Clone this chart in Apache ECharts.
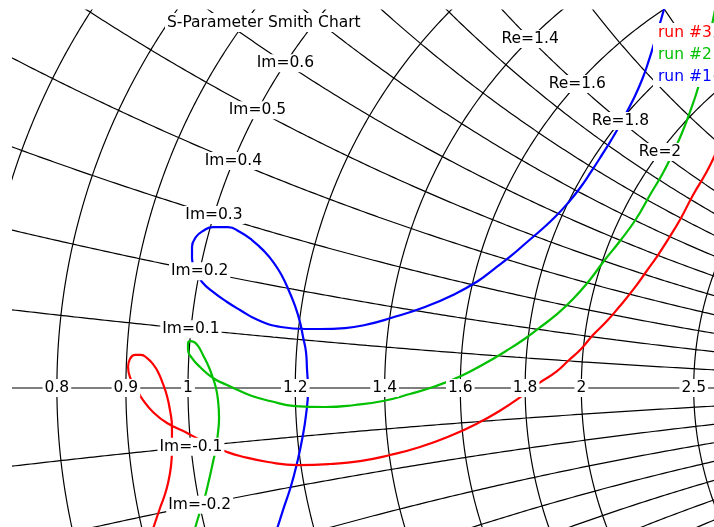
<!DOCTYPE html>
<html><head><meta charset="utf-8">
<script src="https://cdn.jsdelivr.net/npm/echarts@6/dist/echarts.min.js"></script>
<style>html,body{margin:0;padding:0;background:#fff}#c{width:714px;height:527px}</style>
</head><body><div id="c"></div>
<script>
// ---- Smith chart grid values (normalised impedance) ----
const resistanceCircles = [0.5, 0.6, 0.7, 0.8, 0.9, 1, 1.2, 1.4, 1.6, 1.8, 2, 2.5, 3, 4, 5];
const reactanceArcs = [0.1, 0.2, 0.3, 0.4, 0.5, 0.6, 0.7, 0.8, 0.9, 1, 1.2, 1.4, 1.6, 1.8, 2, 3, 4, 5];
// ---- tick labels ----
const realAxisLabels = [0.8, 0.9, 1, 1.2, 1.4, 1.6, 1.8, 2, 2.5];
const imLabels = [0.6, 0.5, 0.4, 0.3, 0.2, 0.1, -0.1, -0.2];
const reLabels = [1.4, 1.6, 1.8, 2];
// ---- S11 data, reflection coefficient (real, imag) ----
const run1Re = [0.4051,0.4008,0.3958,0.3907,0.3847,0.3771,0.3686,0.3602,0.3508,0.3415,0.3322,0.3220,0.3110,0.2992,0.2864,0.2737,0.2593,0.2458,0.2263,0.2008,0.1720,0.1500,0.1331,0.1119,0.0992,0.0788,0.0593,0.0441,0.0331,0.0212,0.0119,0.0059,0.0034,0.0034,0.0068,0.0127,0.0212,0.0339,0.0441,0.0542,0.0644,0.0729,0.0797,0.0856,0.0907,0.0949,0.0975,0.1000,0.1008,0.1017,0.1000,0.0966,0.0924,0.0873,0.0814,0.0746];
const run1Im = [0.3271,0.3119,0.2949,0.2780,0.2610,0.2441,0.2280,0.2127,0.1975,0.1831,0.1695,0.1568,0.1449,0.1339,0.1229,0.1119,0.1008,0.0907,0.0797,0.0686,0.0593,0.0534,0.0508,0.0500,0.0500,0.0517,0.0576,0.0661,0.0729,0.0814,0.0898,0.1000,0.1102,0.1195,0.1280,0.1331,0.1364,0.1364,0.1322,0.1254,0.1161,0.1059,0.0949,0.0822,0.0695,0.0559,0.0432,0.0305,0.0169,-0.0017,-0.0229,-0.0441,-0.0636,-0.0831,-0.1008,-0.1220];
const run2Re = [0.4475,0.4449,0.4407,0.4364,0.4322,0.4254,0.4186,0.4110,0.4025,0.3915,0.3797,0.3661,0.3525,0.3398,0.3263,0.3119,0.2975,0.2839,0.2695,0.2508,0.2314,0.2102,0.1881,0.1653,0.1415,0.1161,0.0907,0.0695,0.0542,0.0441,0.0331,0.0212,0.0102,0.0034,0.0000,0.0000,0.0017,0.0051,0.0085,0.0127,0.0169,0.0203,0.0237,0.0254,0.0263,0.0254,0.0237,0.0212,0.0178,0.0136,0.0093,0.0051];
const run2Im = [0.3246,0.3119,0.2907,0.2712,0.2542,0.2339,0.2161,0.1992,0.1822,0.1636,0.1432,0.1246,0.1076,0.0907,0.0754,0.0619,0.0508,0.0407,0.0314,0.0203,0.0102,0.0017,-0.0051,-0.0110,-0.0144,-0.0161,-0.0153,-0.0110,-0.0068,-0.0025,0.0025,0.0085,0.0178,0.0254,0.0322,0.0373,0.0398,0.0390,0.0356,0.0280,0.0195,0.0110,0.0000,-0.0102,-0.0254,-0.0381,-0.0508,-0.0627,-0.0780,-0.0949,-0.1076,-0.1220];
const run3Re = [0.4492,0.4458,0.4390,0.4280,0.4178,0.4076,0.3983,0.3881,0.3771,0.3653,0.3542,0.3432,0.3331,0.3229,0.3119,0.2975,0.2805,0.2653,0.2458,0.2220,0.1966,0.1712,0.1458,0.1203,0.0932,0.0678,0.0441,0.0331,0.0212,0.0102,-0.0008,-0.0178,-0.0297,-0.0381,-0.0441,-0.0492,-0.0508,-0.0492,-0.0449,-0.0398,-0.0347,-0.0297,-0.0254,-0.0212,-0.0178,-0.0153,-0.0136,-0.0136,-0.0144,-0.0169,-0.0203,-0.0237,-0.0305];
const run3Im = [0.2051,0.1958,0.1822,0.1636,0.1441,0.1271,0.1127,0.0983,0.0831,0.0686,0.0559,0.0449,0.0331,0.0237,0.0136,0.0042,-0.0085,-0.0186,-0.0297,-0.0407,-0.0500,-0.0568,-0.0619,-0.0644,-0.0653,-0.0627,-0.0576,-0.0542,-0.0492,-0.0441,-0.0381,-0.0297,-0.0203,-0.0102,0.0000,0.0093,0.0178,0.0246,0.0280,0.0280,0.0254,0.0203,0.0136,0.0034,-0.0068,-0.0186,-0.0331,-0.0525,-0.0661,-0.0805,-0.0924,-0.1017,-0.1220];

const FONT = 'DejaVu Sans';
const FS = 15.5;

function gamma(r, x) {
  const d = (r + 1) * (r + 1) + x * x;
  return [(r * r - 1 + x * x) / d, (2 * x) / d];
}
function zip(a, b) { return a.map((v, i) => [v, b[i]]); }

// grid lines through Smith transform
const gridData = [];
resistanceCircles.forEach(r => {
  const c = r / (1 + r), R = 1 / (1 + r);
  for (let i = 0; i <= 1440; i++) {
    const t = i / 1440 * Math.PI * 2;
    gridData.push([c + R * Math.cos(t), R * Math.sin(t)]);
  }
  gridData.push('-');
});
reactanceArcs.forEach(xv => {
  [xv, -xv].forEach(x => {
    for (let i = 0; i < 1200; i++) {
      const u = i / 1200;
      gridData.push(gamma(u / (1 - u), x));
    }
    gridData.push([1, 0]);
    gridData.push('-');
  });
});
gridData.push([-1, 0]); gridData.push([1, 0]);

const labelData = [];
realAxisLabels.forEach(r => labelData.push({ name: String(r), value: gamma(r, 0) }));
imLabels.forEach(x => labelData.push({ name: 'Im=' + x, value: gamma(1, x) }));
reLabels.forEach(r => labelData.push({ name: 'Re=' + r, value: gamma(r, 1) }));

const chart = echarts.init(document.getElementById('c'));
const S = 1180; // px per unit of reflection coefficient
const runLine = (name, re, im, color) => ({
  type: 'line', name, data: zip(re, im), showSymbol: false, smooth: 0.5, z: 3, clip: true,
  color, lineStyle: { color, width: 2.2 }
});
chart.setOption({
  animation: false,
  backgroundColor: '#fff',
  title: {
    text: 'S-Parameter Smith Chart', left: 165, top: 13, padding: [1, 2],
    backgroundColor: '#fff',
    textStyle: { fontFamily: FONT, fontSize: FS, fontWeight: 'normal', color: '#000', lineHeight: 17 }
  },
  legend: {
    orient: 'vertical', left: 653, top: 23, itemWidth: 0, itemHeight: 0, itemGap: 6,
    padding: [2, 2, 2, 0], backgroundColor: '#fff', selectedMode: false, icon: 'rect',
    textStyle: { fontFamily: FONT, fontSize: FS, lineHeight: 16 },
    data: [
      { name: 'run #3', textStyle: { color: '#ff0000' } },
      { name: 'run #2', textStyle: { color: '#00c000' } },
      { name: 'run #1', textStyle: { color: '#0000ff' } }
    ]
  },
  grid: { left: 13, top: 10, right: 0, bottom: 0 },
  xAxis: { type: 'value', min: (13 - 188) / S, max: (714 - 188) / S, show: false },
  yAxis: { type: 'value', min: (388 - 527) / S, max: (388 - 10) / S, show: false },
  series: [
    { type: 'line', name: 'grid', data: gridData, showSymbol: false, silent: true, z: 1,
      lineStyle: { color: '#000', width: 1.2 }, clip: true },
    runLine('run #1', run1Re, run1Im, '#0000ff'),
    runLine('run #2', run2Re, run2Im, '#00c000'),
    runLine('run #3', run3Re, run3Im, '#ff0000'),
    { type: 'scatter', name: 'labels', data: labelData, symbolSize: 0, silent: true, z: 10,
      itemStyle: { opacity: 1 },
      label: { show: true, position: 'inside', formatter: '{b}', color: '#000', opacity: 1,
        fontFamily: FONT, fontSize: FS, backgroundColor: '#fff', padding: [1, 2], lineHeight: 16 } }
  ]
});
</script></body></html>
